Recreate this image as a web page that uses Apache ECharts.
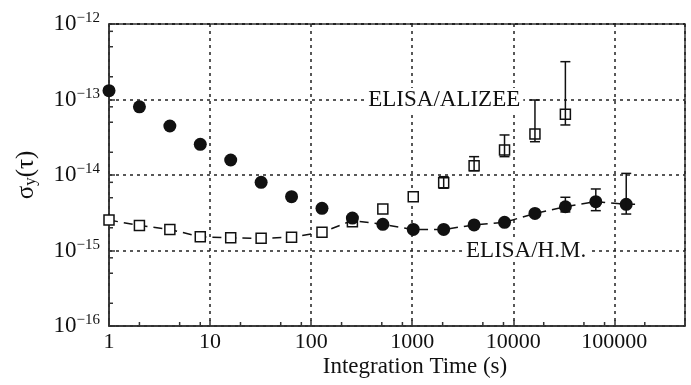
<!DOCTYPE html>
<html>
<head>
<meta charset="utf-8">
<script src="https://cdn.jsdelivr.net/npm/echarts@6/dist/echarts.min.js"></script>
<style>
  html, body { margin: 0; padding: 0; background: #fff; }
  #chart { width: 691px; height: 385px; }
</style>
</head>
<body>
<div id="chart"></div>
<script>
// integration times (s)
const times = [1, 2, 4, 8, 16, 32, 64, 128, 256, 512, 1024, 2048, 4096, 8192, 16384, 32768, 65536, 131072];

// filled circles
const circleVals = [1.31e-13, 8.0e-14, 4.46e-14, 2.55e-14, 1.58e-14, 8.0e-15, 5.16e-15, 3.62e-15, 2.69e-15,
  2.22e-15, 1.9e-15, 1.9e-15, 2.18e-15, 2.36e-15, 3.1e-15, 3.8e-15, 4.43e-15, 4.09e-15];

// open squares (1 .. 32768 s)
const squareVals = [2.53e-15, 2.15e-15, 1.9e-15, 1.52e-15, 1.47e-15, 1.45e-15, 1.5e-15, 1.74e-15, 2.41e-15,
  3.55e-15, 5.16e-15, 7.9e-15, 1.33e-14, 2.14e-14, 3.5e-14, 6.37e-14];

// dashed ELISA/H.M. line
const lineTimes = [1, 2, 4, 8, 16, 32, 64, 128, 256, 512, 1024, 2048, 4096, 8192, 16384, 32768, 65536, 131072, 180000];
const lineVals = [2.53e-15, 2.15e-15, 1.9e-15, 1.52e-15, 1.47e-15, 1.45e-15, 1.5e-15, 1.74e-15, 2.5e-15,
  2.22e-15, 1.9e-15, 1.9e-15, 2.18e-15, 2.36e-15, 3.1e-15, 3.8e-15, 4.43e-15, 4.09e-15, 4.1e-15];

// error bars
const sqErrTimes = [2048, 4096, 8192, 16384, 32768];
const sqErrLow = [6.67e-15, 1.14e-14, 1.75e-14, 2.76e-14, 4.6e-14];
const sqErrHigh = [9.5e-15, 1.75e-14, 3.39e-14, 9.85e-14, 3.17e-13];
const ciErrTimes = [32768, 65536, 131072];
const ciErrLow = [3.24e-15, 3.37e-15, 3.04e-15];
const ciErrHigh = [5.07e-15, 6.53e-15, 1.05e-14];

// minor tick values (2, 5, 8 per decade)
const xMinor = [2, 5, 8, 20, 50, 80, 200, 500, 800, 2000, 5000, 8000, 20000, 50000, 80000, 200000];
const yMinor = [2e-16, 5e-16, 8e-16, 2e-15, 5e-15, 8e-15, 2e-14, 5e-14, 8e-14, 2e-13, 5e-13, 8e-13];

const X_MIN = 1, X_MAX = 500000, Y_MIN = 1e-16, Y_MAX = 1e-12;

const FONT = 'Liberation Serif';
const INK = '#111';

const chart = echarts.init(document.getElementById('chart'));

function errBars(params, api) {
  const x = api.value(0);
  const lo = api.coord([x, api.value(1)]);
  const hi = api.coord([x, api.value(2)]);
  const w = 5;
  const st = { stroke: INK, lineWidth: 1.5 };
  return {
    type: 'group',
    children: [
      { type: 'line', shape: { x1: lo[0], y1: lo[1], x2: hi[0], y2: hi[1] }, style: st },
      { type: 'line', shape: { x1: hi[0] - w, y1: hi[1], x2: hi[0] + w, y2: hi[1] }, style: st },
      { type: 'line', shape: { x1: lo[0] - w, y1: lo[1], x2: lo[0] + w, y2: lo[1] }, style: st }
    ]
  };
}

// minor ticks drawn inward from the bottom / left axis
function minorTicks(dir) {
  return function (params, api) {
    const p = api.coord([api.value(0), api.value(1)]);
    const len = 4;
    const shape = dir === 'x'
      ? { x1: p[0], y1: p[1], x2: p[0], y2: p[1] - len }
      : { x1: p[0], y1: p[1], x2: p[0] + len, y2: p[1] };
    return { type: 'line', shape: shape, style: { stroke: '#333', lineWidth: 1.5 } };
  };
}

const gridDash = { color: '#222', width: 1.5, type: [3, 4] };
const tickLine = { color: '#333', width: 1.5 };

const option = {
  animation: false,
  grid: {
    left: 109, right: 6, top: 24, bottom: 59,
    outerBoundsMode: 'none', containLabel: false,
    show: true, borderColor: '#333', borderWidth: 1.5
  },
  xAxis: {
    type: 'log', logBase: 10, min: X_MIN, max: X_MAX,
    name: 'Integration Time (s)', nameLocation: 'middle', nameGap: 29, nameMoveOverlap: false,
    nameTextStyle: { fontFamily: FONT, fontSize: 23, color: INK, padding: [0, 0, 0, 36] },
    axisLine: { lineStyle: tickLine },
    axisTick: { inside: true, length: 6, lineStyle: tickLine },
    axisLabel: {
      fontFamily: FONT, fontSize: 22, color: INK, margin: 5,
      formatter: v => {
        const e = Math.log10(v);
        return Math.abs(e - Math.round(e)) < 1e-6 ? String(Math.round(v)) : '';
      }
    },
    splitLine: { show: true, lineStyle: gridDash }
  },
  yAxis: {
    type: 'log', logBase: 10, min: Y_MIN, max: Y_MAX,
    name: 'σ{sub|y}(τ)', nameLocation: 'middle', nameGap: 70, nameRotate: 90,
    nameTextStyle: {
      fontFamily: FONT, fontSize: 25, color: INK,
      rich: { sub: { fontFamily: FONT, fontSize: 17, color: INK, verticalAlign: 'bottom', lineHeight: 22 } }
    },
    axisLine: { lineStyle: tickLine },
    axisTick: { inside: true, length: 6, lineStyle: tickLine },
    axisLabel: {
      margin: 9,
      formatter: v => '{b|10}{s|−' + Math.round(-Math.log10(v)) + '}',
      rich: {
        b: { fontFamily: FONT, fontSize: 23, color: INK, lineHeight: 26, verticalAlign: 'middle' },
        s: { fontFamily: FONT, fontSize: 15, color: INK, lineHeight: 14, verticalAlign: 'top' }
      }
    },
    splitLine: { show: true, lineStyle: gridDash }
  },
  series: [
    {
      type: 'line',
      data: lineTimes.map((t, i) => [t, lineVals[i]]),
      showSymbol: false,
      lineStyle: { color: INK, width: 1.5, type: [9, 6] },
      z: 1,
      markPoint: {
        symbolSize: 0,
        label: {
          show: true, position: 'inside', fontFamily: FONT, fontSize: 23, color: INK,
          backgroundColor: '#fff', padding: [0, 3]
        },
        data: [
          { coord: [2075, 1e-13], value: 'ELISA/ALIZEE', label: { formatter: 'ELISA/ALIZEE' } },
          { coord: [13400, 1e-15], value: 'ELISA/H.M.', label: { formatter: 'ELISA/H.M.' } }
        ]
      }
    },
    {
      type: 'scatter',
      data: times.slice(0, squareVals.length).map((t, i) => [t, squareVals[i]]),
      symbol: 'rect', symbolSize: 10,
      itemStyle: { color: '#fff', borderColor: INK, borderWidth: 1.5, opacity: 1 },
      z: 3
    },
    {
      type: 'scatter',
      data: times.map((t, i) => [t, circleVals[i]]),
      symbol: 'circle', symbolSize: 13,
      itemStyle: { color: INK, opacity: 1 },
      z: 3
    },
    {
      type: 'custom',
      renderItem: errBars,
      encode: { x: 0, y: [1, 2] },
      data: sqErrTimes.map((t, i) => [t, sqErrLow[i], sqErrHigh[i]]),
      z: 4
    },
    {
      type: 'custom',
      renderItem: errBars,
      encode: { x: 0, y: [1, 2] },
      data: ciErrTimes.map((t, i) => [t, ciErrLow[i], ciErrHigh[i]]),
      z: 4
    },
    {
      type: 'custom', silent: true, clip: false,
      renderItem: minorTicks('x'),
      data: xMinor.map(v => [v, Y_MIN]),
      z: 5
    },
    {
      type: 'custom', silent: true, clip: false,
      renderItem: minorTicks('y'),
      data: yMinor.map(v => [X_MIN, v]),
      z: 5
    }
  ]
};

chart.setOption(option);
</script>
</body>
</html>
